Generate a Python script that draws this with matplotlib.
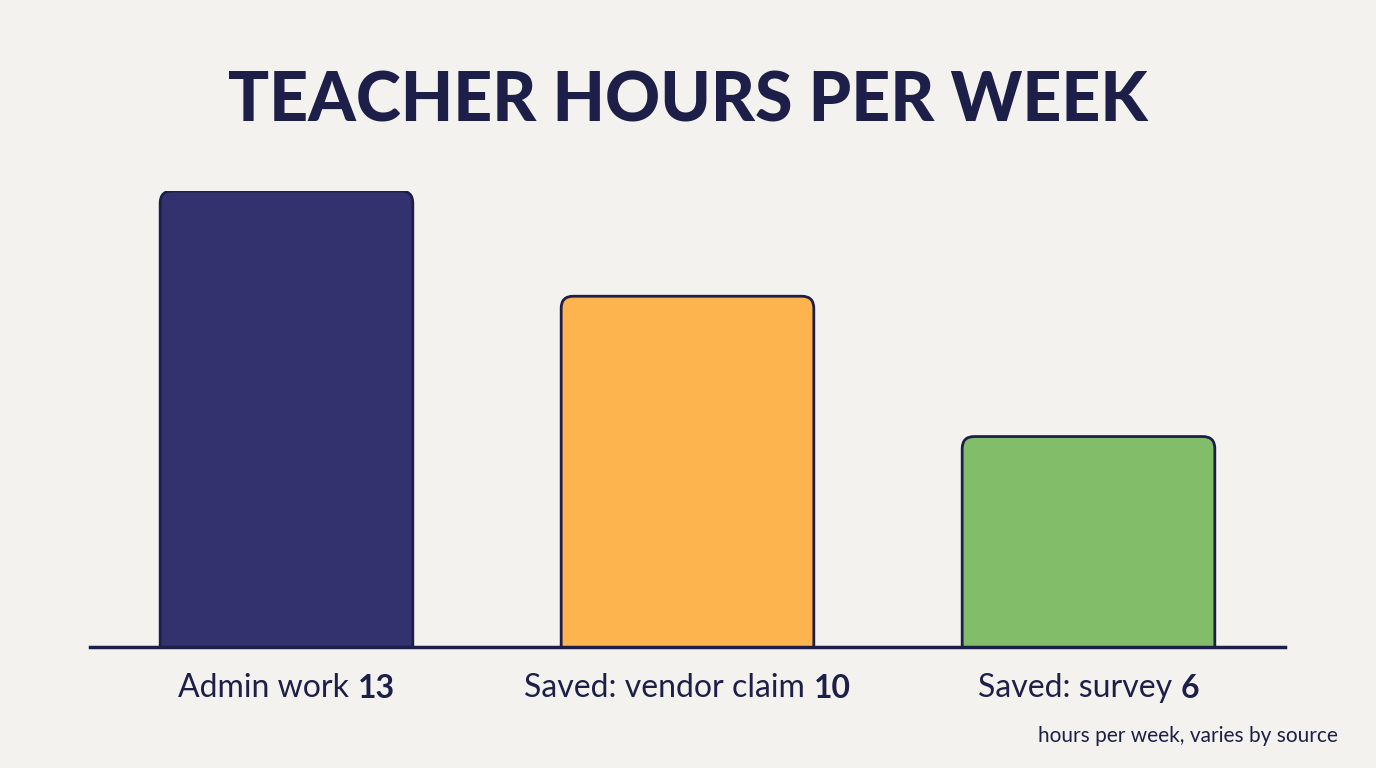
import matplotlib.pyplot as plt
from matplotlib.patches import FancyBboxPatch

labels = ["Admin work", "Saved: vendor claim", "Saved: survey"]
values = [13, 10, 6]
colors = ["#34316f", "#fdb44f", "#82be6a"]

bg = "#f3f2ee"
ink = "#1e1f48"
plt.rcParams['font.family'] = ['Lato', 'DejaVu Sans']

fig = plt.figure(figsize=(13.76, 7.68), dpi=100, facecolor=bg)
ax = fig.add_axes([90 / 1376, 121 / 768, 1195 / 1376, 456 / 768])
ax.set_facecolor(bg)
ax.set_xlim(-0.49, 2.49)
ax.set_ylim(0, 13)

w = 0.63
for i, (v, c) in enumerate(zip(values, colors)):
    p = FancyBboxPatch((i - w / 2, -1), w, v + 1,
                       boxstyle="round,pad=0,rounding_size=0.03",
                       mutation_aspect=11.5, facecolor=c, edgecolor=ink,
                       linewidth=2, clip_on=True)
    ax.add_patch(p)

for s in ax.spines.values():
    s.set_visible(False)
ax.axhline(0, color=ink, lw=2.5, clip_on=False)
ax.set_xticks([])
ax.set_yticks([])

# category labels with bold values
r = fig.canvas.get_renderer()
for i, (lab, v) in enumerate(zip(labels, values)):
    t1 = ax.text(0, 0, lab + " ", fontsize=23, color=ink)
    t2 = ax.text(0, 0, str(v), fontsize=23, color=ink, fontweight='bold')
    w1 = t1.get_window_extent(r).width
    w2 = t2.get_window_extent(r).width
    cx = ax.transData.transform((i, 0))[0]
    x0 = cx - (w1 + w2) / 2
    y = 768 - 688
    t1.set_transform(None); t1.set_position((x0, y)); t1.set_va('center')
    t2.set_transform(None); t2.set_position((x0 + w1, y)); t2.set_va('center')

fig.text(0.5, 1 - 102 / 768, "TEACHER HOURS PER WEEK", ha='center', va='center',
         fontsize=49, fontweight='black', color=ink)
fig.text(1338 / 1376, 1 - 736 / 768, "hours per week, varies by source",
         ha='right', va='center', fontsize=15, color=ink)

fig.savefig("out.png", dpi=100, facecolor=bg)
